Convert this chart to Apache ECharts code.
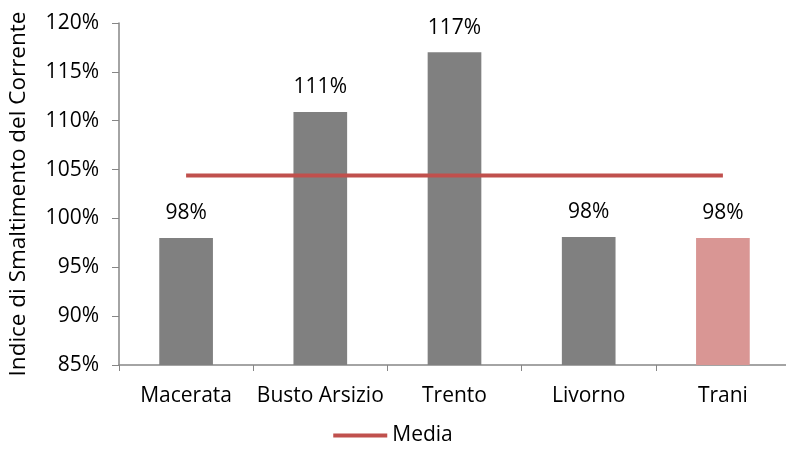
<!DOCTYPE html>
<html>
<head>
<meta charset="utf-8">
<script src="https://cdn.jsdelivr.net/npm/echarts@6/dist/echarts.min.js"></script>
<style>html,body{margin:0;padding:0;background:#fff}#c{width:786px;height:457px}</style>
</head>
<body>
<div id="c"></div>
<script>
const categories = ["Macerata", "Busto Arsizio", "Trento", "Livorno", "Trani"];
const values = [98.0, 110.9, 117.0, 98.1, 98.0];
const labels = ["98%", "111%", "117%", "98%", "98%"];
const mediaValue = 104.4;
const yTicks = [85, 90, 95, 100, 105, 110, 115, 120];

const FONT = "Open Sans";
const FS = 21;
const barColors = ["#808080", "#808080", "#808080", "#808080", "#D99694"];

const chart = echarts.init(document.getElementById('c'), null, {renderer: 'canvas'});
chart.setOption({
  animation: false,
  textStyle: {fontFamily: FONT},
  grid: {left: 119, top: 23, width: 671, bottom: 92, containLabel: false, outerBoundsMode: 'none'},
  legend: {
    data: [{name: "Media", icon: 'rect'}],
    bottom: 6, left: 'center',
    itemWidth: 54, itemHeight: 4, itemGap: 3,
    textStyle: {fontSize: FS, color: '#000', fontFamily: FONT}
  },
  xAxis: {
    type: 'category',
    data: categories,
    axisLine: {lineStyle: {color: '#868686', width: 1.5}},
    axisTick: {show: true, alignWithLabel: false, length: 6, lineStyle: {color: '#868686'}},
    axisLabel: {color: '#000', fontSize: FS, margin: 21, fontFamily: FONT, interval: 0}
  },
  yAxis: {
    type: 'value', min: 85, max: 120, interval: 5,
    name: 'Indice di Smaltimento del Corrente',
    nameLocation: 'middle', nameGap: 89, nameRotate: 90,
    nameTextStyle: {color: '#000', fontSize: 22.5, fontFamily: FONT},
    axisLine: {show: true, lineStyle: {color: '#868686', width: 1.5}},
    axisTick: {show: true, length: 7, lineStyle: {color: '#868686'}},
    splitLine: {show: false},
    axisLabel: {color: '#000', fontSize: FS, margin: 20, fontFamily: FONT, formatter: v => v + '%'}
  },
  series: [
    {
      type: 'bar', name: 'Indice',
      barWidth: '40%',
      data: values.map((v, i) => ({value: v, itemStyle: {color: barColors[i]}})),
      label: {
        show: true, position: 'top', distance: 14,
        color: '#000', fontSize: FS, fontFamily: FONT,
        formatter: p => labels[p.dataIndex]
      }
    },
    {
      type: 'line', name: 'Media',
      data: categories.map(() => mediaValue),
      symbol: 'none',
      lineStyle: {color: '#C0504D', width: 4},
      itemStyle: {color: '#C0504D'}
    }
  ]
});
</script>
</body>
</html>
